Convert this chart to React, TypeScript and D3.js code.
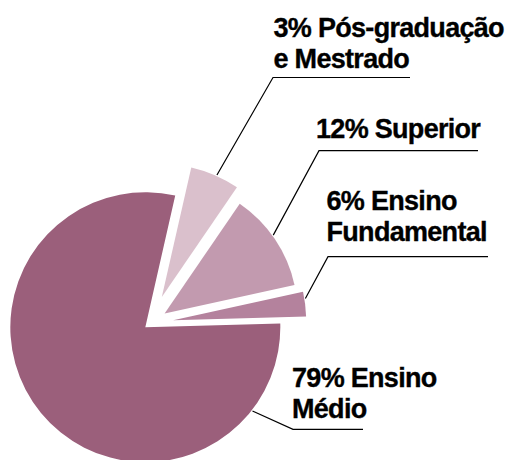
import React from "react";
import * as d3 from "d3";

// Slice shares as drawn (clockwise, starting near 12 o'clock)
const sliceNames = ["Pós-graduação e Mestrado", "Superior", "Ensino Fundamental", "Ensino Médio"];
const sliceShares = [6, 12, 3, 79];
const sliceColors = ["#dac0cc", "#c29aaf", "#b4829d", "#9b5f7b"];

// Label texts as printed
const labelLines = [
  ["3% Pós-graduação", "e Mestrado"],
  ["12% Superior"],
  ["6% Ensino", "Fundamental"],
  ["79% Ensino", "Médio"],
];

// layout (not data)
const W = 509;
const H = 460;
const CX = 150.5;
const CY = 323;
const START_DEG = 12.8;
const explode = [28.25, 17, 22.8, 6.7];
const radii = [133, 133, 133, 135];
const leaderAngleDeg = [24.3, 54.2, 80.7, 128];
const labelX = [273.5, 316, 326.5, 292];
const labelBaseline = [37, 138.3, 210, 386.7];
const lineGap = 31;
const underline = [
  { x1: 273, x2: 410, y: 77.5 },
  { x1: 319, x2: 478, y: 150.7 },
  { x1: 328, x2: 488, y: 256.7 },
  { x1: 293, x2: 363, y: 429.3 },
];

export default function App() {
  const start = (START_DEG * Math.PI) / 180;
  const pie = d3
    .pie<number>()
    .sort(null)
    .value((d) => d)
    .startAngle(start)
    .endAngle(start + 2 * Math.PI);
  const arcs = pie(sliceShares);

  const slices = arcs.map((a, i) => {
    const mid = (a.startAngle + a.endAngle) / 2;
    const ox = CX + explode[i] * Math.sin(mid);
    const oy = CY - explode[i] * Math.cos(mid);
    const path = d3.arc<any>().innerRadius(0).outerRadius(radii[i])(a) as string;
    const la = (leaderAngleDeg[i] * Math.PI) / 180;
    const ex = ox + (radii[i] + 1) * Math.sin(la);
    const ey = oy - (radii[i] + 1) * Math.cos(la);
    return { path, ox, oy, ex, ey, i };
  });

  const font = "'Liberation Sans', Arial, Helvetica, sans-serif";

  return (
    <svg
      width={W}
      height={H}
      viewBox={`0 0 ${W} ${H}`}
      style={{ position: "absolute", left: 0, top: 0, background: "#fff" }}
    >
      <rect width={W} height={H} fill="#fff" />
      {slices.map((s) => (
        <path
          key={sliceNames[s.i]}
          d={s.path}
          transform={`translate(${s.ox},${s.oy})`}
          fill={sliceColors[s.i]}
        />
      ))}
      {slices.map((s) => (
        <g key={"l" + s.i}>
          <polyline
            points={`${s.ex},${s.ey} ${underline[s.i].x1},${underline[s.i].y} ${underline[s.i].x2},${underline[s.i].y}`}
            fill="none"
            stroke="#000"
            strokeWidth={1.2}
          />
          <text
            x={labelX[s.i]}
            y={labelBaseline[s.i]}
            fontFamily={font}
            fontWeight="bold"
            fontSize={27}
            letterSpacing={-0.7}
            fill="#000"
            stroke="#000"
            strokeWidth={0.35}
          >
            {labelLines[s.i].map((t, k) => (
              <tspan key={k} x={labelX[s.i]} y={labelBaseline[s.i] + k * lineGap}>
                {t}
              </tspan>
            ))}
          </text>
        </g>
      ))}
    </svg>
  );
}
